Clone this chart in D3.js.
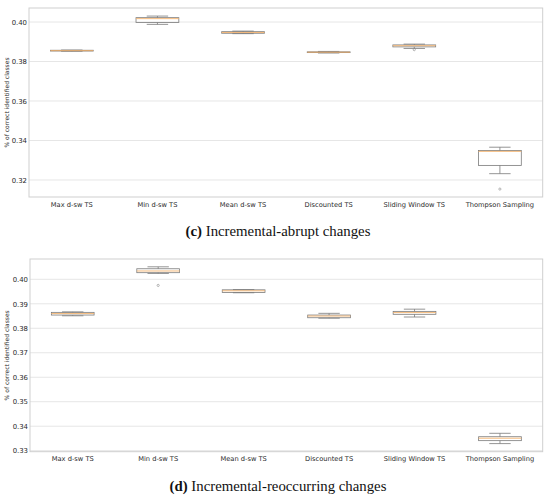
<!DOCTYPE html>
<html>
<head>
<meta charset="utf-8">
<script src="https://cdn.jsdelivr.net/npm/d3@7"></script>
<style>
  html, body { margin: 0; padding: 0; background: #fff; }
  svg { display: block; }
</style>
</head>
<body>
<svg id="chart" width="550" height="497"></svg>
<script>
// ---------- data ----------
const categories = ["Max d-sw TS", "Min d-sw TS", "Mean d-sw TS", "Discounted TS", "Sliding Window TS", "Thompson Sampling"];

// (c) Incremental-abrupt changes
const abruptWhiskerLow  = [0.3852, 0.3988, 0.3941, 0.3843, 0.3866, 0.3232];
const abruptQ1          = [0.3853, 0.3997, 0.3943, 0.3845, 0.3874, 0.3274];
const abruptMedian      = [0.3855, 0.4017, 0.3947, 0.3847, 0.3880, 0.3345];
const abruptQ3          = [0.3857, 0.4022, 0.3951, 0.3849, 0.3884, 0.3349];
const abruptWhiskerHigh = [0.3858, 0.4030, 0.3954, 0.3851, 0.3888, 0.3366];
const abruptOutliers    = [[], [], [], [], [0.3860], [0.3154]];
const abruptTicks       = [0.32, 0.34, 0.36, 0.38, 0.40];

// (d) Incremental-reoccurring changes
const reoccWhiskerLow  = [0.3851, 0.4024, 0.3945, 0.3841, 0.3846, 0.3329];
const reoccQ1          = [0.3854, 0.4027, 0.3946, 0.3843, 0.3857, 0.3341];
const reoccMedian      = [0.3860, 0.4034, 0.3953, 0.3850, 0.3864, 0.3351];
const reoccQ3          = [0.3865, 0.4043, 0.3957, 0.3854, 0.3869, 0.3357];
const reoccWhiskerHigh = [0.3867, 0.4051, 0.3958, 0.3861, 0.3878, 0.3371];
const reoccOutliers    = [[], [0.3975], [], [], [], []];
const reoccTicks       = [0.33, 0.34, 0.35, 0.36, 0.37, 0.38, 0.39, 0.40];

const yLabel = "% of correct identified classes";
const captions = [["(c)", " Incremental-abrupt changes"], ["(d)", " Incremental-reoccurring changes"]];

// ---------- drawing ----------
const svg = d3.select("#chart");

function panel(opts) {
  const { left, right, top, bottom, domain, ticks, wl, q1, med, q3, wh, outl, caption, captionY } = opts;
  const g = svg.append("g");
  const x = d3.scaleBand().domain(categories).range([left, right]).paddingInner(0).paddingOuter(0);
  const y = d3.scaleLinear().domain(domain).range([bottom, top]);

  // grid
  g.append("g").selectAll("line").data(ticks).join("line")
    .attr("x1", left).attr("x2", right)
    .attr("y1", d => y(d)).attr("y2", d => y(d))
    .attr("stroke", "#e6e6e6").attr("stroke-width", 1);

  // frame
  g.append("rect").attr("x", left).attr("y", top)
    .attr("width", right - left).attr("height", bottom - top)
    .attr("fill", "none").attr("stroke", "#cfcfcf").attr("stroke-width", 1);

  // y axis
  const yAxis = d3.axisLeft(y).tickValues(ticks).tickSize(0).tickPadding(2)
    .tickFormat(d3.format(".2f"));
  const ya = g.append("g").attr("transform", `translate(${left},0)`).call(yAxis);
  ya.select(".domain").remove();
  ya.selectAll("text").attr("font-family", "DejaVu Sans").attr("font-size", 6.9).attr("fill", "#2a2a2a");

  // x axis
  const xAxis = d3.axisBottom(x).tickSize(0).tickPadding(5);
  const xa = g.append("g").attr("transform", `translate(0,${bottom})`).call(xAxis);
  xa.select(".domain").remove();
  xa.selectAll("text").attr("font-family", "DejaVu Sans").attr("font-size", 6.7).attr("fill", "#2a2a2a");

  // y label
  g.append("text")
    .attr("transform", `translate(7.5,${(top + bottom) / 2}) rotate(-90)`)
    .attr("text-anchor", "middle").attr("dominant-baseline", "middle")
    .attr("font-family", "DejaVu Sans").attr("font-size", 6).attr("fill", "#2a2a2a")
    .text(yLabel);

  const bw = x.bandwidth() * 0.5;
  const cw = bw * 0.5;
  const stroke = "#7a7a7a";
  categories.forEach((c, i) => {
    const cx = x(c) + x.bandwidth() / 2;
    const b = g.append("g");
    // whiskers
    b.append("line").attr("x1", cx).attr("x2", cx).attr("y1", y(q3[i])).attr("y2", y(wh[i]))
      .attr("stroke", stroke).attr("stroke-width", 0.8);
    b.append("line").attr("x1", cx).attr("x2", cx).attr("y1", y(q1[i])).attr("y2", y(wl[i]))
      .attr("stroke", stroke).attr("stroke-width", 0.8);
    // caps
    [wh[i], wl[i]].forEach(v => {
      b.append("line").attr("x1", cx - cw / 2).attr("x2", cx + cw / 2).attr("y1", y(v)).attr("y2", y(v))
        .attr("stroke", stroke).attr("stroke-width", 0.8);
    });
    // box
    b.append("rect").attr("x", cx - bw / 2).attr("y", y(q3[i]))
      .attr("width", bw).attr("height", Math.max(0.5, y(q1[i]) - y(q3[i])))
      .attr("fill", "none").attr("stroke", stroke).attr("stroke-width", 0.8);
    // median
    b.append("line").attr("x1", cx - bw / 2).attr("x2", cx + bw / 2)
      .attr("y1", y(med[i])).attr("y2", y(med[i]))
      .attr("stroke", "#f3b26e").attr("stroke-width", 0.9);
    // outliers
    b.selectAll("circle").data(outl[i]).join("circle")
      .attr("cx", cx).attr("cy", d => y(d)).attr("r", 1.1)
      .attr("fill", "none").attr("stroke", "#888").attr("stroke-width", 0.6);
  });

  // caption
  const t = svg.append("text").attr("x", 278).attr("y", captionY)
    .attr("text-anchor", "middle").attr("font-family", "Liberation Serif")
    .attr("font-size", 14.8).attr("fill", "#111");
  t.append("tspan").attr("font-weight", "bold").text(caption[0]);
  t.append("tspan").text(caption[1]);
}

panel({
  left: 29, right: 542.7, top: 8, bottom: 197,
  domain: [0.31139, 0.40709], ticks: abruptTicks,
  wl: abruptWhiskerLow, q1: abruptQ1, med: abruptMedian, q3: abruptQ3, wh: abruptWhiskerHigh, outl: abruptOutliers,
  caption: captions[0], captionY: 236
});

panel({
  left: 30, right: 542.7, top: 259, bottom: 451.7,
  domain: [0.32959, 0.40829], ticks: reoccTicks,
  wl: reoccWhiskerLow, q1: reoccQ1, med: reoccMedian, q3: reoccQ3, wh: reoccWhiskerHigh, outl: reoccOutliers,
  caption: captions[1], captionY: 491
});
</script>
</body>
</html>
